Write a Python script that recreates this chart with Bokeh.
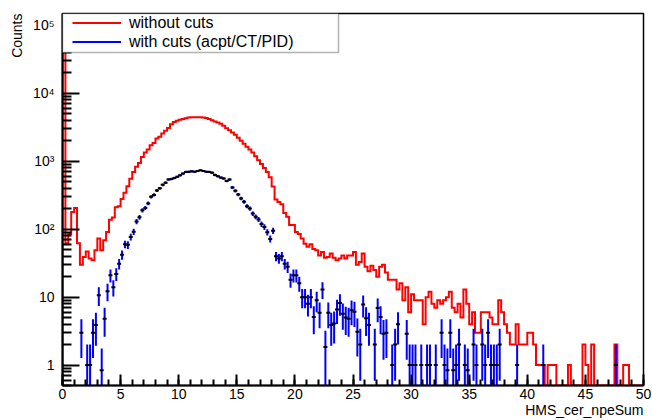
import math
import numpy as np
from bokeh.plotting import figure
from bokeh.models import (Range1d, FixedTicker, Legend, LegendItem,
                          BoxAnnotation, Title)
from bokeh.embed import file_html
from bokeh.resources import INLINE

# ---------------- data ----------------
bin_width = 0.25
x_min, x_max = 0.0, 50.0
y_min, y_max = 0.5, 1.5e5

# histogram without cuts (200 bins of 0.25 from 0 to 50)
red_counts = [
    80000, 62, 85, 180, 205, 62, 30, 39, 47, 37,
    35, 49, 73, 49, 69, 91, 138, 149, 210, 218,
    279, 343, 430, 552, 698, 828, 947, 1160, 1350, 1490,
    1727, 1865, 2167, 2290, 2570, 2810, 3100, 3520, 3780, 3940,
    4080, 4200, 4300, 4400, 4450, 4450, 4450, 4450, 4400, 4350,
    4200, 4030, 3850, 3720, 3560, 3330, 3070, 2870, 2650, 2460,
    2220, 2000, 1810, 1640, 1490, 1350, 1190, 1040, 910, 800,
    693, 580, 425, 273, 252, 233, 174, 152, 115, 115,
    91, 85, 73, 61, 55, 60, 51, 49, 41, 46,
    38, 39, 44, 38, 35, 37, 41, 37, 41, 41,
    46, 30, 33, 44, 28, 24, 29, 25, 20, 28,
    30, 23, 18, 18, 18, 13, 16, 9, 14, 6,
    11, 9, 9, 9, 4, 10, 12, 8, 7, 9,
    8, 9, 10, 12, 7, 6, 8, 5, 13, 8,
    4, 6, 3, 3, 6, 6, 6, 5, 4, 4,
    9, 6, 4, 3, 2, 2, 4, 2, 2, 2,
    3, 3, 2, 1, 1, 1, 0, 1, 1, 1,
    0, 0, 0, 0, 1, 0, 0, 0, 0, 2,
    1, 0, 2, 0, 0, 0, 0, 0, 0, 0,
    2, 0, 0, 1, 1, 0, 0, 0, 0, 0,
]

# histogram with cuts (acpt/CT/PID), weighted counts
blue_counts = [
    0, 0, 0, 0, 0, 0, 3.0, 0, 1.0, 1.0,
    3.0, 3.9, 10.7, 0.84, 4.8, 12.2, 21, 14, 22, 31,
    42, 60, 59, 77, 92, 130, 150, 190, 206, 240,
    300, 320, 372, 400, 450, 485, 540, 550, 570, 590,
    622, 660, 697, 700, 713, 700, 720, 738, 720, 700,
    697, 680, 630, 602, 575, 560, 514, 538, 411, 367,
    324, 283, 253, 218, 202, 170, 152, 139, 119, 108,
    90, 72, 95, 40, 37, 40, 31, 28, 18, 21,
    21, 16, 10, 10, 8, 10, 5.1, 9, 5.9, 13,
    1.85, 5.9, 3.9, 4.1, 6.6, 8.2, 5.7, 5.0, 4.8, 6.4,
    6.1, 3.1, 2.0, 7.8, 4.9, 3.9, 0, 2.0, 6.9, 5.1,
    2.9, 3.0, 0, 1.0, 2.0, 4.0, 0, 0, 2.9, 1,
    1, 1, 0, 1, 0, 1, 1, 0, 1, 0,
    3, 1, 0.84, 3, 0.84, 1, 2, 0, 1, 0.84,
    0, 2, 1, 0, 2, 1, 3, 1, 1, 1,
    2, 0, 0, 0, 0, 0, 1, 0, 0, 0,
    0, 0, 0, 0, 0, 1, 0, 0, 0, 0,
    0, 0, 0, 0, 0, 0, 0, 0, 0, 0,
    0, 0, 0, 0, 0, 0, 0, 0, 0, 0,
    1, 0, 0, 0, 0, 0, 0, 0, 0, 0,
]

x_ticks = list(range(0, 51, 5))
y_ticks = [1, 10, 100, 1000, 10000, 100000]
y_tick_labels = {1: "1", 10: "10", 100: "10\u00b2", 1000: "10\u00b3",
                 10000: "10\u2074", 100000: "10\u2075"}

legend_labels = ["without cuts", "with cuts (acpt/CT/PID)"]
x_title = "HMS_cer_npeSum"
y_title = "Counts"

# ---------------- layout (pixels) ----------------
W, H = 652, 420
BL, BR, BT, BB = 62, 9, 13, 35
frame_w = W - BL - BR
frame_h = H - BT - BB
px_per_x = frame_w / (x_max - x_min)
px_per_dec = frame_h / (math.log10(y_max) - math.log10(y_min))

FONT = "Liberation Sans"
p = figure(width=W, height=H,
           x_range=Range1d(x_min, x_max), y_range=Range1d(y_min, y_max),
           y_axis_type="log", output_backend="svg", toolbar_location=None,
           min_border_left=BL, min_border_right=BR,
           min_border_top=BT, min_border_bottom=BB)
p.background_fill_color = "white"
p.border_fill_color = "white"
p.xgrid.visible = False
p.ygrid.visible = False
p.outline_line_color = "black"
p.outline_line_width = 1.5

red = np.array(red_counts, dtype=float)
blue = np.array(blue_counts, dtype=float)
n_bins = len(red)
edges = x_min + np.arange(n_bins + 1) * bin_width
centers = edges[:-1] + bin_width / 2

# red step outline (empty bins drawn at the bottom of the frame)
red_draw = np.clip(red, y_min, None)
xs = np.concatenate([[edges[0]], np.repeat(edges, 2)[1:-1], [edges[-1]]])
ys = np.concatenate([[y_min], np.repeat(red_draw, 2), [y_min]])
r_red = p.line(xs, ys, line_color="#ff0000", line_width=2, line_join="miter")

# blue points with error bars
mask = blue > 0
bc = centers[mask]
bv = blue[mask]
err = np.sqrt(bv)
lo = np.clip(bv - err, y_min * 0.5, None)
hi = bv + err
r_blue = p.segment(x0=bc, y0=lo, x1=bc, y1=hi, line_color="#0000ff", line_width=2)
p.scatter(bc, bv, marker="dash", size=4, line_color="black", line_width=2)

# ---------------- axes ----------------
p.xaxis.ticker = FixedTicker(ticks=x_ticks, minor_ticks=list(range(0, 51)))
p.yaxis.ticker = FixedTicker(ticks=y_ticks,
                             minor_ticks=[m * 10.0 ** e for e in range(-1, 6) for m in range(2, 10)])
p.yaxis.major_label_overrides = y_tick_labels

for ax in (p.xaxis, p.yaxis):
    ax.axis_line_width = 2
    ax.axis_line_color = "black"
    ax.major_tick_line_width = 2
    ax.minor_tick_line_width = 2
    ax.major_tick_line_color = "black"
    ax.minor_tick_line_color = "black"
    ax.major_tick_out = 0
    ax.minor_tick_out = 0
    ax.major_label_text_font = FONT
    ax.major_label_text_font_size = "14px"
    ax.major_label_text_color = "black"

p.xaxis.major_tick_in = 11
p.xaxis.minor_tick_in = 6
p.xaxis.major_label_standoff = 3
p.yaxis.major_tick_in = 17
p.yaxis.minor_tick_in = 9
p.yaxis.major_label_standoff = 8

# axis titles (ROOT style: aligned to the end of the axis)
p.add_layout(Title(text=x_title, align="right", vertical_align="top",
                   standoff=0, offset=0,
                   text_font=FONT, text_font_size="14px",
                   text_font_style="normal", text_color="black"), "below")
p.add_layout(Title(text=y_title, align="right", vertical_align="bottom",
                   standoff=10, offset=0,
                   text_font=FONT, text_font_size="14px",
                   text_font_style="normal", text_color="black"), "left")

# ---------------- legend ----------------
box_right = x_min + 276 / px_per_x
box_bottom = 10 ** (math.log10(y_max) - 39 / px_per_dec)
legend_box = BoxAnnotation(left=x_min, right=box_right, top=y_max, bottom=box_bottom,
                           fill_color="white", fill_alpha=1.0,
                           line_color="black", line_width=1.5)
p.add_layout(legend_box)

legend = Legend(items=[LegendItem(label=legend_labels[0], renderers=[r_red]),
                       LegendItem(label=legend_labels[1], renderers=[r_blue])],
                location=(10, frame_h - 38), padding=0, margin=0, spacing=0,
                glyph_width=49, glyph_height=19, label_height=19,
                label_standoff=8, label_text_font=FONT,
                label_text_font_size="16px", label_text_color="black",
                border_line_alpha=0, background_fill_alpha=0)
p.add_layout(legend)

open("out.html", "w").write(file_html(p, INLINE))
